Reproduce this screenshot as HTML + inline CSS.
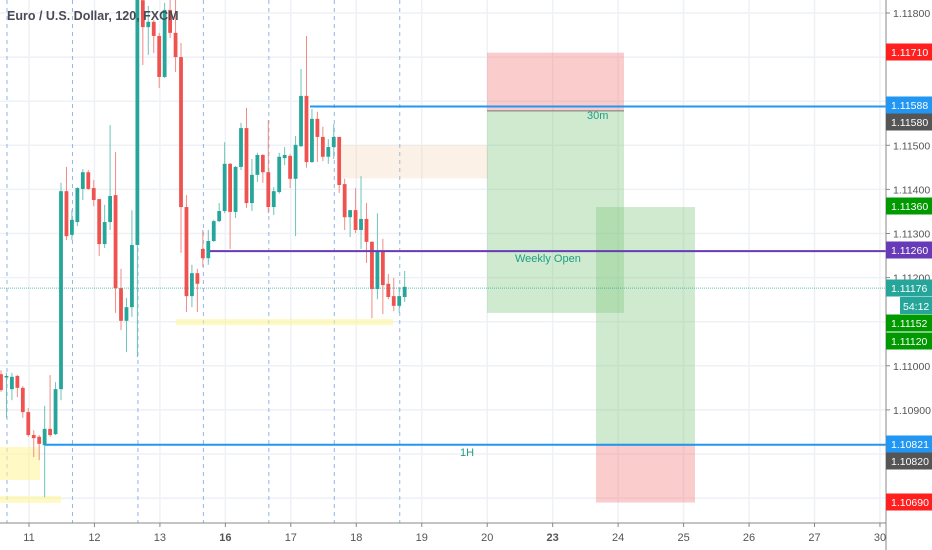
<!DOCTYPE html>
<html><head><meta charset="utf-8">
<style>
html,body{margin:0;padding:0;background:#fff;}
svg{display:block;font-family:"Liberation Sans",sans-serif;}
</style></head>
<body>
<svg id="chart" width="932" height="550" viewBox="0 0 932 550" xmlns="http://www.w3.org/2000/svg">
<g id="grid"></g>
<g id="zones"></g>
<g id="candles"></g>
<g id="lines"></g>
<g id="axes"></g>
<text x="7" y="20" font-size="12.5" font-weight="bold" fill="#4a4a55">Euro / U.S. Dollar, 120, FXCM</text>
</svg>
<script>
// ---- data ----
const opens  = [110981,110975,110947,110977,110950,110895,110843,110839,110820,110857,110845,110947,111396,111297,111326,111401,111439,111403,111378,111276,111326,111387,111176,111102,111133,111274,111829,111768,111780,111748,111655,111807,111755,111700,111360,111158,111210,111265,111244,111283,111328,111351,111458,111349,111451,111539,111369,111433,111478,111439,111360,111394,111471,111476,111424,111498,111612,111462,111560,111519,111474,111496,111519,111412,111337,111353,111308,111333,111281,111174,111260,111186,111158,111136,111156];
const highs  = [110990,110984,110984,110979,110954,110904,110854,110843,110909,110979,110963,111415,111451,111353,111405,111446,111444,111421,111378,111365,111546,111485,111220,111154,111353,111863,111863,111816,111784,111755,111823,111841,111852,111732,111387,111229,111220,111308,111308,111331,111369,111507,111460,111453,111551,111585,111469,111483,111480,111557,111405,111483,111496,111480,111521,111673,111748,111582,111576,111542,111514,111548,111519,111424,111353,111403,111430,111369,111283,111346,111288,111208,111199,111179,111215];
const lows   = [110941,110882,110922,110929,110882,110839,110793,110786,110702,110839,110843,110922,111285,111285,111317,111376,111399,111362,111249,111267,111308,111120,111081,111031,111111,111020,111682,111705,111709,111630,111653,111743,111666,111256,111122,111133,111122,111224,111229,111281,111326,111346,111265,111335,111444,111358,111351,111417,111415,111346,111342,111390,111455,111403,111294,111496,111449,111460,111462,111464,111458,111469,111392,111308,111292,111301,111265,111233,111108,111151,111117,111151,111124,111120,111145];
const closes = [110945,110977,110975,110950,110895,110843,110836,110823,110857,110843,110947,111396,111294,111331,111403,111439,111401,111376,111276,111326,111385,111176,111102,111133,111274,111852,111768,111780,111748,111655,111807,111755,111700,111360,111158,111210,111186,111244,111283,111328,111351,111458,111349,111451,111539,111369,111433,111478,111439,111360,111396,111474,111478,111424,111501,111612,111462,111560,111519,111474,111496,111519,111410,111337,111353,111308,111333,111281,111174,111260,111183,111156,111136,111158,111179];
const dayLabels = ["11","12","13","16","17","18","19","20","23","24","25","26","27","30"];
const priceTicks = [1.118,1.117,1.116,1.115,1.114,1.113,1.112,1.111,1.110,1.109,1.108,1.107];
const shownTicks = ["1.11800","1.11500","1.11400","1.11300","1.11200","1.11000","1.10900"];
const levelPrices = [1.11588,1.10821,1.11260,1.11176];
const axisLabelValues = ["1.11710","1.11588","1.11580","1.11360","1.11260","1.11176","1.11152","1.11120","1.10821","1.10820","1.10690"];
const axisLabelColors = ["#ff1f1f","#2196f3","#555555","#009900","#673ab7","#26a69a","#009900","#009900","#2196f3","#555555","#ff1f1f"];

// ---- scales ----
const NS="http://www.w3.org/2000/svg";
const PLOT_R=886, AXIS_Y=523;
function y(p){ return 13 + (1.118 - p) * 44100; }
function yp(v){ return y(v/100000); }
function x(i){ return 1 + i * 5.455; }
function dayX(k){ return x(5.13 + 12*k); }
function el(tag, attrs, parent){ const e=document.createElementNS(NS,tag); for(const k in attrs) e.setAttribute(k,attrs[k]); parent.appendChild(e); return e; }

const grid=document.getElementById('grid'), zones=document.getElementById('zones'),
      cg=document.getElementById('candles'), lg=document.getElementById('lines'), ag=document.getElementById('axes');

// grid
priceTicks.forEach(p=>{
  const l=el('line',{x1:0,x2:PLOT_R,y1:y(p),y2:y(p),stroke:'#eef1f6','stroke-width':1.5},grid);
  
  
});
dayLabels.forEach((d,k)=>{
  const l=el('line',{x1:dayX(k),x2:dayX(k),y1:0,y2:AXIS_Y,stroke:'#eef1f6','stroke-width':1.5},grid);
  
  
});
for(let k=0;k<7;k++){
  const xs=x(1.1+12*k);
  const l=el('line',{x1:xs,x2:xs,y1:0,y2:AXIS_Y,stroke:'#8fb4ec','stroke-width':1,'stroke-dasharray':'4,4'},grid);
  
  
}

// zones
function rect(x1,y1,x2,y2,fill,name){
  const r=el('rect',{x:x1,y:Math.min(y1,y2),width:x2-x1,height:Math.abs(y2-y1),fill:fill},zones);
  
  
  return r;
}
rect(342,y(1.11500),488,y(1.11425),'rgba(245,200,160,0.25)','supply-zone');
rect(0,y(1.10816),40,y(1.10741),'rgba(255,245,150,0.55)','demand-zone-left');
rect(0,y(1.10705),61,y(1.10689),'rgba(255,245,150,0.55)','demand-line-left');
rect(176,y(1.11106),393,y(1.11092),'rgba(255,245,150,0.55)','demand-line-mid');
rect(487,y(1.11710),624,y(1.11578),'rgba(245,120,120,0.38)','short-stop-zone-30m');
rect(487,y(1.11578),624,y(1.11120),'rgba(130,200,130,0.38)','short-target-zone-30m');
rect(596,y(1.11360),695,y(1.10820),'rgba(130,200,130,0.38)','long-target-zone-1h');
rect(596,y(1.10820),695,y(1.10690),'rgba(245,120,120,0.38)','long-stop-zone-1h');
el('line',{x1:487,x2:624,y1:y(1.11578),y2:y(1.11578),stroke:'#777','stroke-width':1},zones);
el('line',{x1:596,x2:695,y1:y(1.10820),y2:y(1.10820),stroke:'#777','stroke-width':1},zones);

// candles
opens.forEach((o,i)=>{
  const c=closes[i], up=c>=o, col=up?'#26a69a':'#ef5350', cx=x(i);
  const g=el('g',{},cg);
  
  
  el('line',{x1:cx,x2:cx,y1:yp(highs[i]),y2:yp(lows[i]),stroke:up?'#6cc3b9':'#f28a88','stroke-width':1},g);
  const top=Math.min(yp(o),yp(c)), h=Math.max(1.5,Math.abs(yp(o)-yp(c)));
  el('rect',{x:cx-1.9,y:top,width:3.8,height:h,fill:col},g);
});

// level lines
const l1=el('line',{x1:310,x2:PLOT_R,y1:y(levelPrices[0]),y2:y(levelPrices[0]),stroke:'#2196f3','stroke-width':2},lg);


const l2=el('line',{x1:45,x2:PLOT_R,y1:y(levelPrices[1]),y2:y(levelPrices[1]),stroke:'#2196f3','stroke-width':2},lg);


const l3=el('line',{x1:210,x2:PLOT_R,y1:y(levelPrices[2]),y2:y(levelPrices[2]),stroke:'#673ab7','stroke-width':2},lg);


const l4=el('line',{x1:0,x2:PLOT_R,y1:y(levelPrices[3]),y2:y(levelPrices[3]),stroke:'#26a69a','stroke-width':1,'stroke-dasharray':'1,1','opacity':0.7},lg);


function txt(s,xx,yy,name,parent,attrs){
  const t=el('text',Object.assign({x:xx,y:yy,'font-size':11,fill:'#1e9e86'},attrs||{}),parent);
  t.textContent=s;
  
  
  return t;
}
txt('30m',587,119,'label-30m',lg);
txt('Weekly Open',515,262,'label-weekly-open',lg);
txt('1H',460,456,'label-1h',lg);

// axes
el('rect',{x:PLOT_R,y:0,width:46,height:550,fill:'#fff'},ag);
el('rect',{x:0,y:AXIS_Y,width:932,height:27,fill:'#fff'},ag);
el('line',{x1:PLOT_R,x2:PLOT_R,y1:0,y2:550,stroke:'#888','stroke-width':1},ag);
el('line',{x1:0,x2:PLOT_R,y1:AXIS_Y,y2:AXIS_Y,stroke:'#888','stroke-width':1},ag);
shownTicks.forEach(s=>{
  const yy=y(parseFloat(s));
  el('line',{x1:PLOT_R,x2:PLOT_R+4,y1:yy,y2:yy,stroke:'#888'},ag);
  txt(s,PLOT_R+7,yy+4,'price-tick',ag,{fill:'#555','font-size':10.5});
});
dayLabels.forEach((d,k)=>{
  const xx=dayX(k);
  el('line',{x1:xx,x2:xx,y1:AXIS_Y,y2:AXIS_Y+4,stroke:'#888'},ag);
  txt(d,xx,541,'date-tick',ag,{fill:'#555','font-size':11,'text-anchor':'middle','font-weight':(d==='16'||d==='23')?'bold':'normal'});
});
const labelYs=[52,105,122,206,250,288,323,341,444,461,502];
axisLabelValues.forEach((s,i)=>{
  const g=el('g',{},ag);
  
  
  el('rect',{x:PLOT_R,y:labelYs[i]-8.5,width:46,height:17,fill:axisLabelColors[i]},g);
  txt(s,PLOT_R+5,labelYs[i]+4,'price-label-text',g,{fill:'#fff','font-size':10.5});
});
const cd=el('g',{},ag);


el('rect',{x:900,y:297,width:32,height:17,fill:'#26a69a'},cd);
txt('54:12',903,310,'countdown-text',cd,{fill:'#fff','font-size':10.5});
</script>
</body></html>
